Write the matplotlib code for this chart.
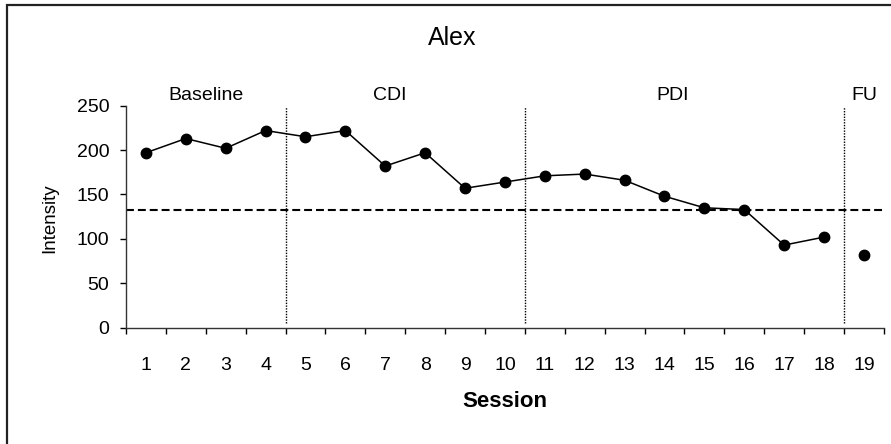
import matplotlib
matplotlib.use('Agg')
import matplotlib.pyplot as plt
from matplotlib.patches import Rectangle

plt.rcParams['font.family'] = ['Liberation Sans', 'DejaVu Sans']

sessions = list(range(1, 20))
intensity = [197, 213, 202, 222, 215, 222, 182, 197, 157, 164,
             171, 173, 166, 148, 135, 133, 93, 102]
fu_session = [19]
fu_intensity = [82]
criterion = 133
phase_breaks = [4.5, 10.5, 18.5]
phase_names = ['Baseline', 'CDI', 'PDI', 'FU']
phase_pos = [2.5, 7.1, 14.2, 19.0]

fig = plt.figure(figsize=(8.91, 4.44), dpi=100)
ax = fig.add_axes([0.1414, 0.262, 0.8506, 0.500])

ax.plot(sessions[:18], intensity, color='black', lw=1.1, marker='o', ms=7.5, zorder=3)
ax.plot(fu_session, fu_intensity, 'o', color='black', ms=7.5, zorder=3)

ax.axhline(criterion, color='black', lw=1.5, linestyle=(0, (3.8, 1.9)), zorder=2)
ax.vlines(phase_breaks, 5, 249, colors='black', lw=1.0, linestyles=(0, (1, 1)), zorder=2)

for name, p in zip(phase_names, phase_pos):
    ax.text(p, 261, name, ha='center', va='center', fontsize=14, clip_on=False)

ax.set_xlim(0.5, 19.5)
ax.set_ylim(0, 250)
ax.set_yticks([0, 50, 100, 150, 200, 250])
ax.set_xticks(sessions)
ax.set_xticks([i + 0.5 for i in range(0, 20)], minor=True)
ax.tick_params(axis='x', which='major', length=0, pad=21, labelsize=14)
ax.tick_params(axis='x', which='minor', length=4, direction='out', width=1)
ax.tick_params(axis='y', length=4, direction='out', width=1, pad=8, labelsize=14)

for s in ['top', 'right']:
    ax.spines[s].set_visible(False)
for s in ['left', 'bottom']:
    ax.spines[s].set_color('#333333')
    ax.spines[s].set_linewidth(1.0)

fig.text(0.508, 0.9155, 'Alex', ha='center', va='center', fontsize=18)
fig.text(0.567, 0.0946, 'Session', ha='center', va='center', fontsize=16, fontweight='bold')
fig.text(0.056, 0.509, 'Intensity', ha='center', va='center', fontsize=13.5, rotation=90)

fig.patches.append(Rectangle((7 / 891, -0.1), 1.2, 1.1 - 5 / 444 + 0.0, transform=fig.transFigure,
                             fill=False, edgecolor='#222222', lw=1.6))

fig.savefig('out.png', dpi=100)
